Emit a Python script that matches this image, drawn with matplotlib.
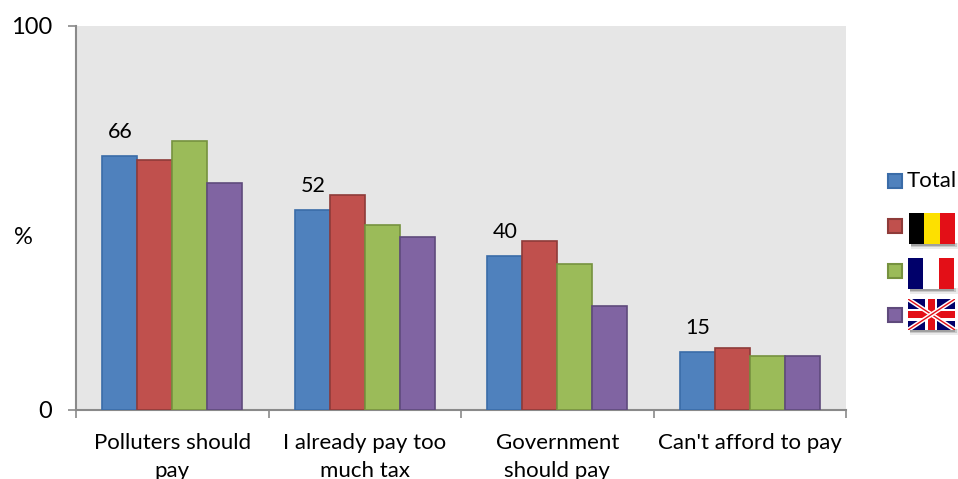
import matplotlib
matplotlib.use("Agg")
import matplotlib.pyplot as plt
from matplotlib.patches import Rectangle
import numpy as np

plt.rcParams['font.family'] = ['Lato', 'DejaVu Sans']

categories = ['Polluters should\npay', 'I already pay too\nmuch tax', 'Government\nshould pay', "Can't afford to pay"]
total = [66, 52, 40, 15]
belgium = [65, 56, 44, 16]
france = [70, 48, 38, 14]
uk = [59, 45, 27, 14]

series = [total, belgium, france, uk]
fills = ['#4f81bd', '#c0504d', '#9bbb59', '#8064a2']
edges = ['#3a6ca8', '#8e3b39', '#76923f', '#5f4a7c']
grey = '#8a8a8a'

W, H = 958, 479
fig = plt.figure(figsize=(W / 100, H / 100), dpi=100)
ax = fig.add_axes([76 / W, (H - 409.5) / H, 770 / W, 383.5 / H])
ax.set_facecolor('#e6e6e6')

x = np.arange(len(categories)) + 0.5
bar_w = 35 / 192.5
for i, vals in enumerate(series):
    ax.bar(x + (i - 1.5) * bar_w, vals, bar_w, color=fills[i], edgecolor=edges[i], linewidth=1.2, zorder=3)

# value labels only on the Total bars
for xi, v in zip(x, total):
    ax.annotate(str(v), (xi - 1.5 * bar_w, v), xytext=(0.5, 17.5), textcoords='offset points',
                ha='center', va='center', fontsize=15.5, color='black')

ax.set_xlim(0, 4)
ax.set_ylim(0, 100)
ax.set_yticks([0, 100])
ax.set_xticks(range(5))
ax.set_xticklabels([])
ax.set_xticks(x, categories, minor=True, fontsize=16)
ax.tick_params(axis='x', which='minor', length=0, pad=17)
ax.tick_params(axis='x', which='major', length=6, width=1.2, color=grey)
ax.tick_params(axis='y', length=6, width=1.2, color=grey, labelsize=17, pad=11)
for lab in ax.get_xticklabels(minor=True):
    lab.set_linespacing(1.47)
for s in ['top', 'right']:
    ax.spines[s].set_visible(False)
for s in ['left', 'bottom']:
    ax.spines[s].set_color(grey)
    ax.spines[s].set_linewidth(1.5)

# overlay in pixel coordinates for the hand made legend with flags
ov = fig.add_axes([0, 0, 1, 1])
ov.set_xlim(0, W)
ov.set_ylim(H, 0)
ov.axis('off')
ov.patch.set_alpha(0)

ov.text(23, 237, '%', fontsize=17, ha='center', va='center')
ov.text(907, 181, 'Total', fontsize=16, ha='left', va='center')

for i, y0 in enumerate([174, 219, 264, 308]):
    ov.add_patch(Rectangle((888, y0), 14, 14, facecolor=fills[i], edgecolor=edges[i], linewidth=1.5))


def shadow(x0, y0, w, h):
    for k, a in zip([5, 3, 1.5], [0.08, 0.14, 0.2]):
        ov.add_patch(Rectangle((x0 + 2, y0 + h - 1), w + k - 3, k + 1, facecolor='black', edgecolor='none', alpha=a))


def stripes(x0, y0, w, h, cols):
    shadow(x0, y0, w, h)
    for j, c in enumerate(cols):
        ov.add_patch(Rectangle((x0 + j * w / 3, y0), w / 3, h, facecolor=c, edgecolor='none'))


stripes(909, 213, 46, 31, ['black', '#fde000', '#e30f17'])
stripes(908, 258, 46, 31, ['#00006a', 'white', '#e30f17'])

# union jack
x0, y0, w, h = 908, 299, 47, 31
shadow(x0, y0, w, h)
clip = Rectangle((x0, y0), w, h, facecolor='#00006a', edgecolor='none')
ov.add_patch(clip)
for xs, ys in [((x0, x0 + w), (y0, y0 + h)), ((x0, x0 + w), (y0 + h, y0))]:
    l1, = ov.plot(xs, ys, color='white', lw=3.2, solid_capstyle='butt')
    l2, = ov.plot(xs, ys, color='#e30f17', lw=1.0, solid_capstyle='butt')
    l1.set_clip_path(clip)
    l2.set_clip_path(clip)
ov.add_patch(Rectangle((x0 + w / 2 - 6, y0), 12, h, facecolor='white', edgecolor='none'))
ov.add_patch(Rectangle((x0, y0 + h / 2 - 6), w, 12, facecolor='white', edgecolor='none'))
ov.add_patch(Rectangle((x0 + w / 2 - 3.5, y0), 7, h, facecolor='#e30f17', edgecolor='none'))
ov.add_patch(Rectangle((x0, y0 + h / 2 - 3.5), w, 7, facecolor='#e30f17', edgecolor='none'))

fig.savefig('out.png', dpi=100)
